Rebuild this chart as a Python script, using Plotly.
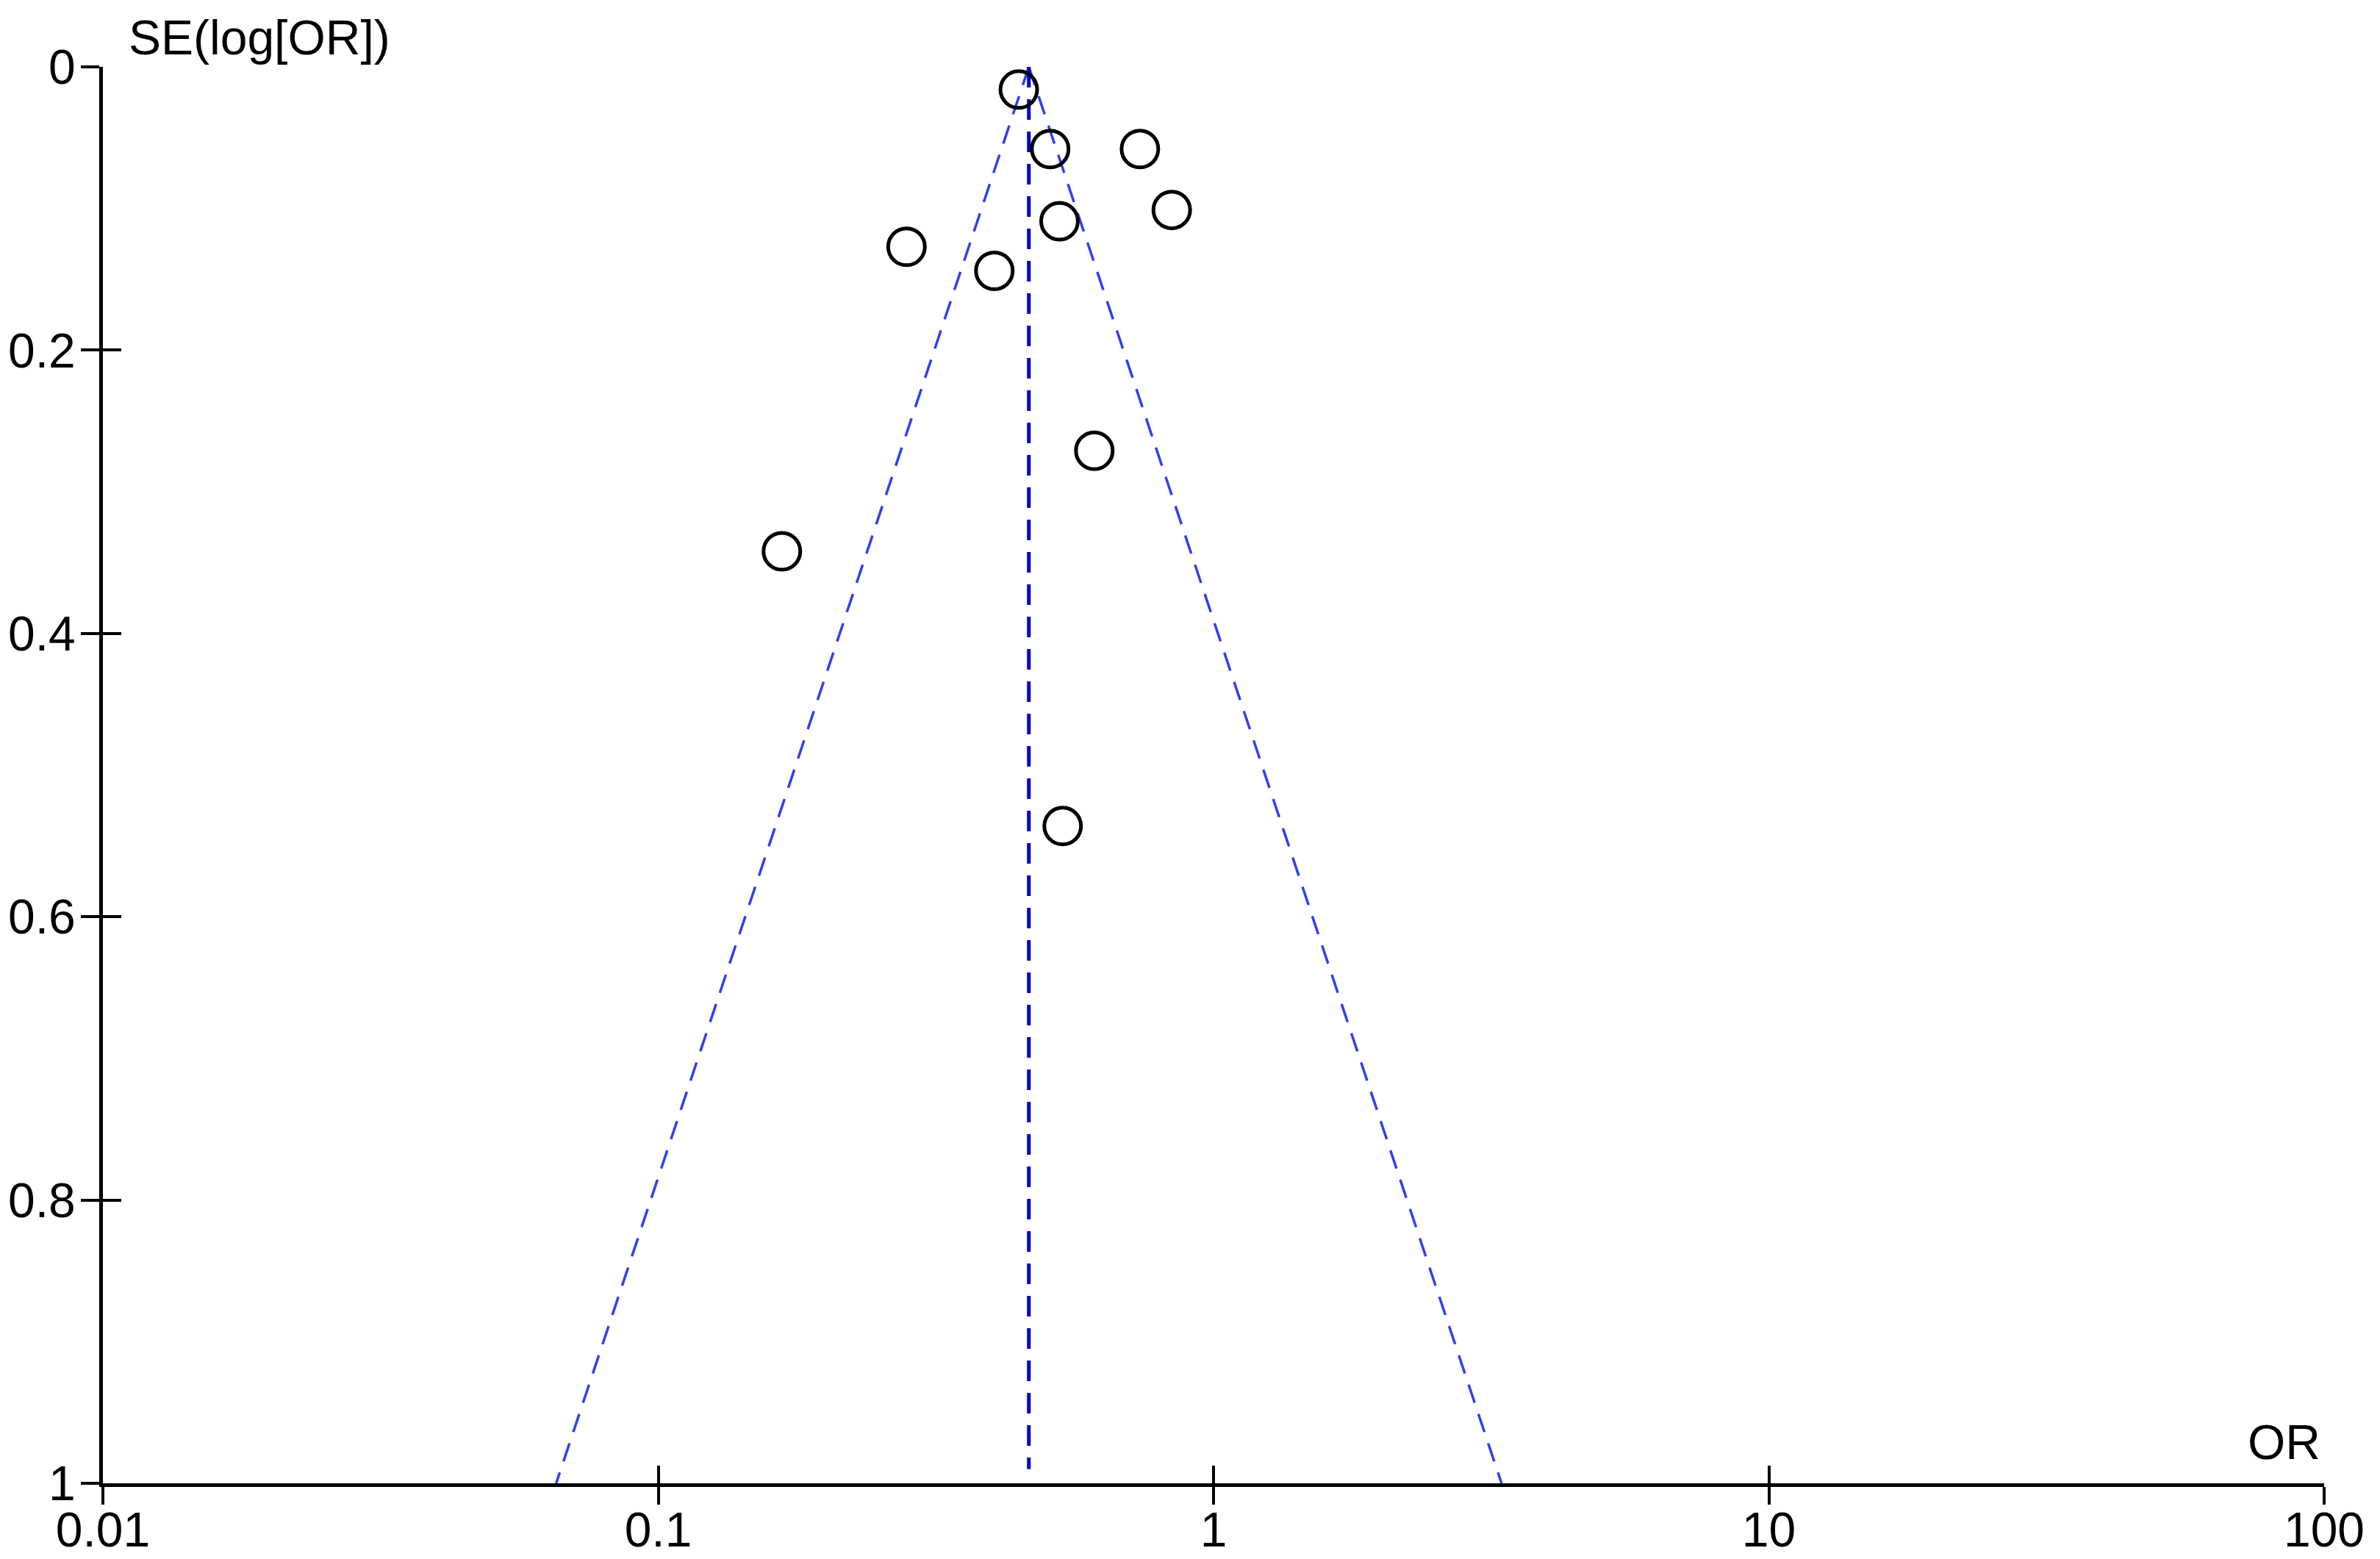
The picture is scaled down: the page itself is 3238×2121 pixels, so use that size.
import numpy as np
import plotly.graph_objects as go

# estudos (OR e erro padrão do log OR)
odds_ratio = [0.446, 0.508, 0.737, 0.841, 0.528, 0.280, 0.403, 0.610, 0.167, 0.535]
se_log_or = [0.016, 0.058, 0.058, 0.101, 0.109, 0.127, 0.144, 0.271, 0.342, 0.536]

# estimativa combinada
or_combinado = 0.465
se_max = 1.0

x_ticks = [0.01, 0.1, 1, 10, 100]
x_tick_text = ["0.01", "0.1", "1", "10", "100"]
y_ticks = [0, 0.2, 0.4, 0.6, 0.8, 1]
y_tick_text = ["0", "0.2", "0.4", "0.6", "0.8", "1"]

FONTE = "Liberation Sans Narrow, Liberation Sans, Arial"
AZUL = "#0000d0"

fig = go.Figure()

# limites do funil (IC 95%)
se_linha = [0, se_max]
esq = [or_combinado, or_combinado * np.exp(-1.96 * se_max)]
dir_ = [or_combinado, or_combinado * np.exp(1.96 * se_max)]
for xs in (esq, dir_):
    fig.add_trace(go.Scatter(x=xs, y=se_linha, mode="lines",
                             line=dict(color="#3040f0", width=3.5, dash="26px,16px"),
                             hoverinfo="skip"))

# linha vertical do OR combinado
fig.add_trace(go.Scatter(x=[or_combinado, or_combinado], y=[0, se_max * 0.99], mode="lines",
                         line=dict(color=AZUL, width=5, dash="28px,16px"),
                         hoverinfo="skip"))

# estudos
fig.add_trace(go.Scatter(x=odds_ratio, y=se_log_or, mode="markers",
                         marker=dict(symbol="circle-open", size=50, color="black",
                                     line=dict(width=5, color="black"))))

eixo = dict(showgrid=False, zeroline=False, showline=True, linecolor="black",
            automargin=False,
            tickcolor="black", tickfont=dict(family=FONTE, size=66, color="black"))

# margens já descontando os 8px do body da página
fig.update_layout(
    width=3238, height=2121,
    margin=dict(l=132, r=84, t=83, b=111, autoexpand=False),
    plot_bgcolor="white", paper_bgcolor="white",
    showlegend=False,
    xaxis=dict(type="log", range=[-2, 2], tickvals=x_ticks, ticktext=x_tick_text,
               ticks="outside", ticklen=24, tickwidth=4, linewidth=5,
               ticklabelstandoff=-22, **eixo),
    yaxis=dict(range=[1, 0], tickvals=y_ticks, ticktext=y_tick_text,
               ticks="outside", ticklen=25, tickwidth=4, linewidth=5,
               ticklabelstandoff=-6, **eixo),
    xaxis2=dict(type="log", range=[-2, 2], overlaying="x", anchor="y", side="bottom",
                tickvals=x_ticks, showticklabels=False, ticks="inside", ticklen=24,
                tickwidth=4, tickcolor="black", showgrid=False, zeroline=False,
                showline=False, automargin=False),
    yaxis2=dict(range=[1, 0], overlaying="y", anchor="x", side="left",
                tickvals=y_ticks, showticklabels=False, ticks="inside", ticklen=25,
                tickwidth=4, tickcolor="black", showgrid=False, zeroline=False,
                showline=False, automargin=False),
)

# traço invisível para ativar os eixos 2
fig.add_trace(go.Scatter(x=[1], y=[0.5], xaxis="x2", yaxis="y2", mode="markers",
                         marker=dict(opacity=0), hoverinfo="skip"))

fig.add_annotation(text="SE(log[OR])", xref="paper", yref="paper",
                   x=0.011, y=1 + 40 / 1927, xanchor="left", yanchor="middle",
                   showarrow=False, font=dict(family=FONTE, size=66, color="black"))
fig.add_annotation(text="OR", xref="paper", yref="paper",
                   x=0.999, y=56 / 1927, xanchor="right", yanchor="middle",
                   showarrow=False, font=dict(family=FONTE, size=66, color="black"))

fig.write_html("out.html")
